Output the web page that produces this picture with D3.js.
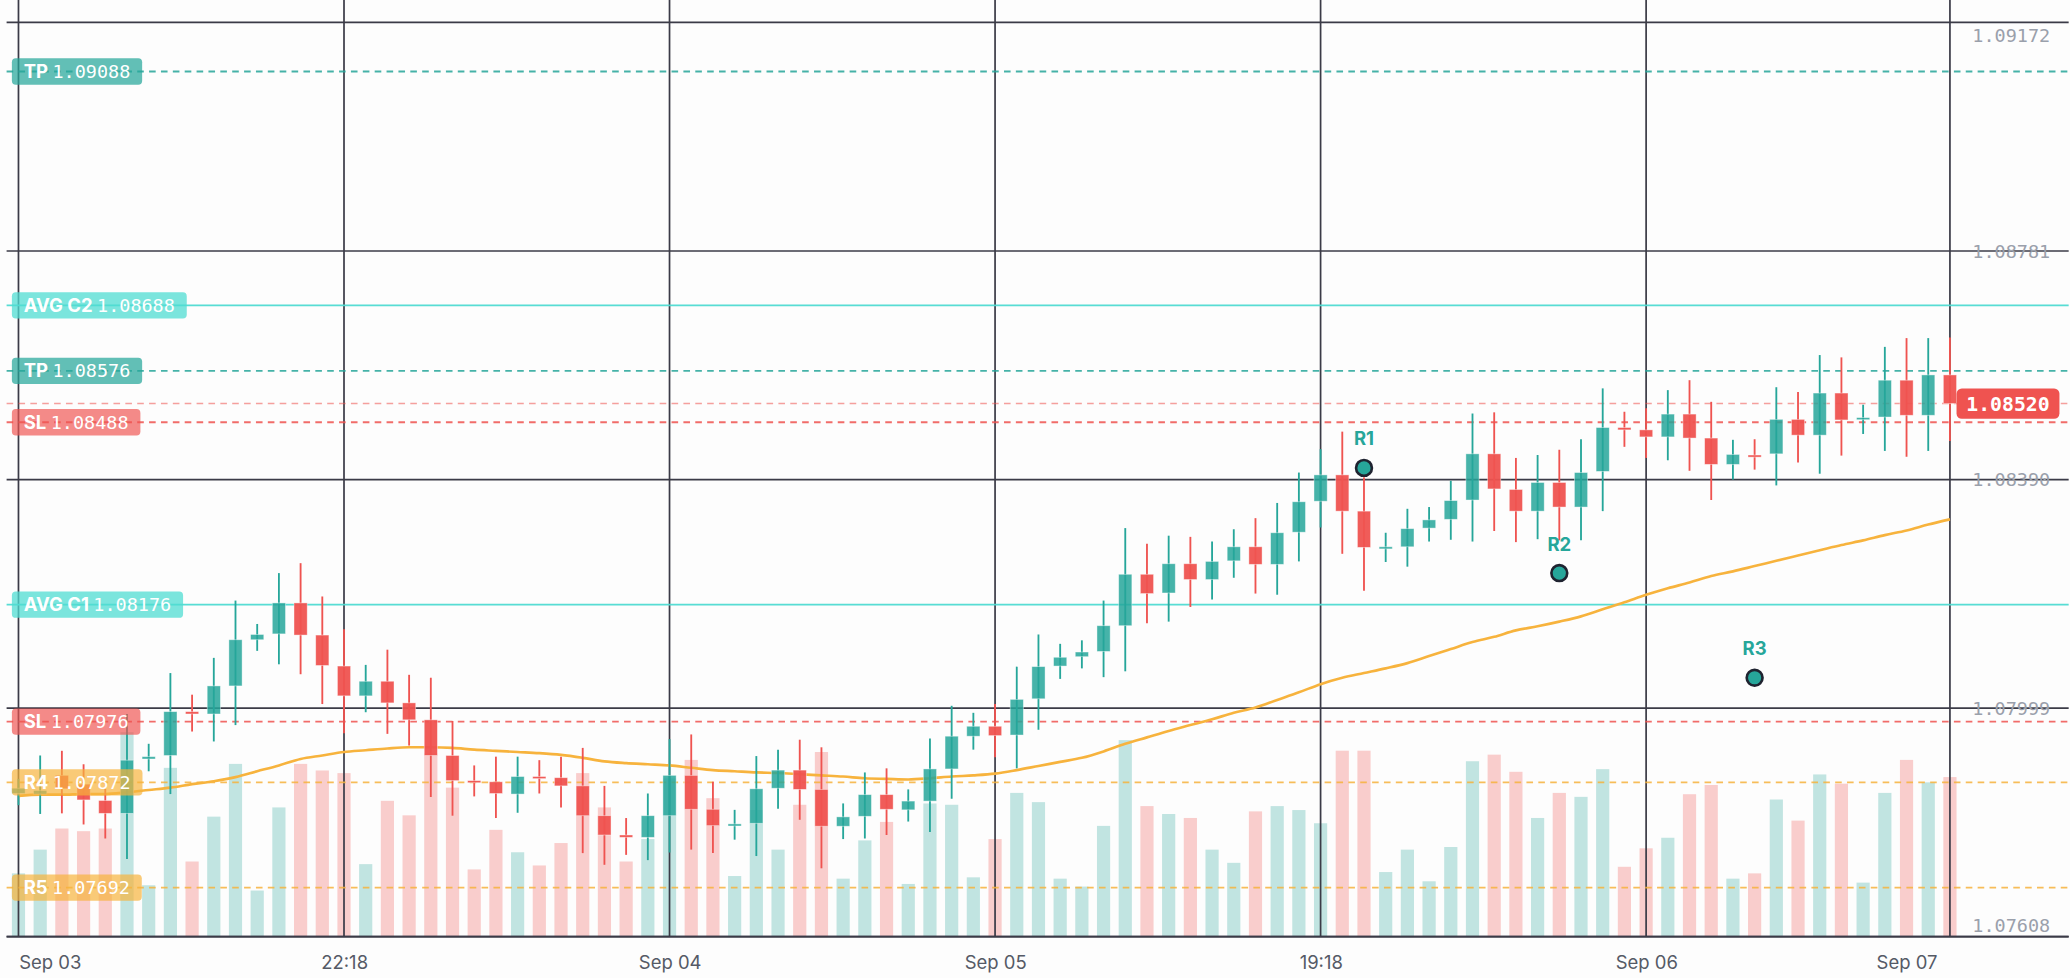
<!DOCTYPE html>
<html><head><meta charset="utf-8">
<script src="https://cdn.jsdelivr.net/npm/d3@7"></script>
<style>html,body{margin:0;padding:0;background:#fdfdfd;overflow:hidden}</style>
</head><body><svg id="c"></svg>
<script>
const opens=[1.07853,1.07852,1.07884,1.07869,1.07841,1.07819,1.07912,1.07918,1.07993,1.07989,1.08037,1.08116,1.08126,1.08179,1.08124,1.08071,1.08020,1.08045,1.08008,1.07979,1.07918,1.07875,1.07873,1.07852,1.07882,1.07880,1.07866,1.07815,1.07782,1.07778,1.07815,1.07884,1.07826,1.07799,1.07802,1.07862,1.07893,1.07860,1.07797,1.07814,1.07851,1.07825,1.07840,1.07895,1.07951,1.07968,1.07953,1.08015,1.08071,1.08087,1.08096,1.08140,1.08228,1.08196,1.08246,1.08219,1.08251,1.08275,1.08245,1.08300,1.08353,1.08398,1.08336,1.08274,1.08275,1.08307,1.08322,1.08355,1.08434,1.08373,1.08336,1.08385,1.08343,1.08404,1.08479,1.08475,1.08463,1.08502,1.08461,1.08416,1.08432,1.08434,1.08493,1.08466,1.08538,1.08495,1.08497,1.08560,1.08500,1.08569];
const highs=[1.07878,1.07918,1.07926,1.07903,1.07861,1.07989,1.07938,1.08059,1.08022,1.08085,1.08183,1.08143,1.08230,1.08247,1.08190,1.08134,1.08073,1.08099,1.08056,1.08051,1.07977,1.07901,1.07916,1.07916,1.07910,1.07916,1.07931,1.07866,1.07811,1.07853,1.07946,1.07954,1.07873,1.07825,1.07917,1.07928,1.07945,1.07932,1.07836,1.07889,1.07896,1.07860,1.07947,1.08003,1.07991,1.08006,1.08070,1.08125,1.08109,1.08115,1.08183,1.08307,1.08280,1.08294,1.08292,1.08284,1.08305,1.08324,1.08350,1.08402,1.08442,1.08472,1.08394,1.08299,1.08340,1.08343,1.08388,1.08503,1.08505,1.08427,1.08432,1.08441,1.08459,1.08546,1.08506,1.08512,1.08543,1.08560,1.08523,1.08458,1.08459,1.08548,1.08540,1.08603,1.08599,1.08518,1.08617,1.08632,1.08632,1.08633];
const lows=[1.07833,1.07818,1.07819,1.07800,1.07776,1.07741,1.07891,1.07852,1.07959,1.07942,1.07970,1.08097,1.08074,1.08057,1.08006,1.07956,1.07992,1.07955,1.07935,1.07847,1.07815,1.07848,1.07811,1.07820,1.07853,1.07829,1.07751,1.07731,1.07748,1.07739,1.07752,1.07757,1.07751,1.07774,1.07746,1.07827,1.07808,1.07725,1.07775,1.07776,1.07782,1.07805,1.07787,1.07844,1.07928,1.07915,1.07896,1.07962,1.08049,1.08067,1.08052,1.08062,1.08144,1.08147,1.08172,1.08185,1.08222,1.08195,1.08193,1.08250,1.08308,1.08263,1.08200,1.08249,1.08241,1.08284,1.08287,1.08284,1.08302,1.08283,1.08288,1.08286,1.08286,1.08336,1.08446,1.08427,1.08423,1.08405,1.08355,1.08390,1.08407,1.08380,1.08419,1.08400,1.08431,1.08468,1.08439,1.08429,1.08439,1.08456];
const closes=[1.07862,1.07858,1.07861,1.07842,1.07819,1.07910,1.07916,1.07993,1.07989,1.08037,1.08116,1.08125,1.08179,1.08124,1.08072,1.08020,1.08045,1.08008,1.07979,1.07918,1.07875,1.07872,1.07853,1.07882,1.07879,1.07866,1.07815,1.07782,1.07778,1.07815,1.07884,1.07826,1.07798,1.07801,1.07861,1.07893,1.07860,1.07797,1.07813,1.07851,1.07826,1.07840,1.07895,1.07951,1.07968,1.07952,1.08014,1.08070,1.08086,1.08095,1.08140,1.08228,1.08195,1.08246,1.08219,1.08250,1.08275,1.08245,1.08299,1.08352,1.08398,1.08336,1.08274,1.08275,1.08306,1.08321,1.08354,1.08434,1.08374,1.08336,1.08385,1.08343,1.08402,1.08479,1.08475,1.08463,1.08502,1.08461,1.08416,1.08433,1.08431,1.08493,1.08466,1.08538,1.08492,1.08496,1.08560,1.08500,1.08569,1.08520];
const volumes=[48,66,82,80,82,155,39,128,57,91,131,35,98,131,126,124,55,103,92,139,113,51,81,64,54,71,124,98,57,74,120,134,105,46,96,66,100,140,44,73,87,40,101,100,45,74,109,102,44,38,84,149,99,93,90,66,56,95,99,96,86,141,141,49,66,42,68,133,138,125,90,109,106,127,53,67,75,108,115,44,48,104,88,123,116,41,109,134,117,121];
const maValues=[1.07849,1.07851,1.07851,1.07852,1.07852,1.07855,1.07859,1.07863,1.07869,1.07874,1.07881,1.07891,1.07901,1.07912,1.07918,1.07924,1.07927,1.07930,1.07932,1.07932,1.07931,1.07928,1.07926,1.07924,1.07922,1.07919,1.07914,1.07908,1.07905,1.07903,1.07901,1.07897,1.07893,1.07891,1.07889,1.07888,1.07886,1.07884,1.07882,1.07879,1.07878,1.07877,1.07879,1.07882,1.07884,1.07887,1.07893,1.07900,1.07907,1.07914,1.07925,1.07938,1.07949,1.07960,1.07970,1.07980,1.07991,1.08000,1.08013,1.08026,1.08040,1.08051,1.08059,1.08067,1.08076,1.08088,1.08100,1.08112,1.08121,1.08132,1.08139,1.08147,1.08156,1.08168,1.08180,1.08193,1.08204,1.08214,1.08225,1.08233,1.08242,1.08251,1.08260,1.08269,1.08278,1.08286,1.08295,1.08303,1.08313,1.08322];
const timeTickIndex=[0,15,30,45,60,75,89];
const timeTickLabels=["Sep 03","22:18","Sep 04","Sep 05","19:18","Sep 06","Sep 07"];
const priceTicks=[1.09172,1.08781,1.08390,1.07999,1.07608];
const levelNames=["TP","AVG C2","TP","SL","AVG C1","SL","R4","R5"];
const levelPrices=[1.09088,1.08688,1.08576,1.08488,1.08176,1.07976,1.07872,1.07692];
const levelKinds=["tp","avg","tp","sl","avg","sl","r","r"];
const markerNames=["R1","R2","R3"];
const markerIndex=[62,71,80];
const markerPrices=[1.08410,1.08230,1.08051];
const lastPrice=1.08520;

const W=1569,H=741.3;
const svg=d3.select("#c").attr("width",2070).attr("height",978).attr("viewBox",`0 0 ${W} ${H}`);
svg.append("rect").attr("width",W).attr("height",H).attr("fill","#fdfdfd");
const L=14,R=1478,T=17,B=710;
const x=d3.scaleLinear().domain([0,89]).range([L,R]);
const y=d3.scaleLinear().domain([1.07608,1.09172]).range([B,T]);
const vy=d3.scaleLinear().domain([0,160]).range([B,550]);
const UP="#26a69a",DN="#ef5350";
const gridC="#3b3b47";
const mono="'DejaVu Sans Mono', monospace";
const sans="'Inter','Noto Sans',sans-serif";

const n=opens.length;
const idx=d3.range(n);
svg.append("g").selectAll("rect").data(idx).join("rect")
 .attr("x",i=>x(i)-5).attr("width",10).attr("y",i=>vy(volumes[i])).attr("height",i=>B-vy(volumes[i]))
 .attr("fill",i=>closes[i]>=opens[i]?"rgba(38,166,154,0.28)":"rgba(239,83,80,0.28)");

const g=svg.append("g");
priceTicks.forEach(p=>g.append("line").attr("x1",5).attr("x2",1568).attr("y1",y(p)).attr("y2",y(p)).attr("stroke",gridC).attr("stroke-width",1.3));
timeTickIndex.forEach(i=>g.append("line").attr("x1",x(i)).attr("x2",x(i)).attr("y1",0).attr("y2",B).attr("stroke",gridC).attr("stroke-width",1.3));

const lvlColor={tp:"#26a69a",avg:"#4fdcd2",sl:"#ef5350",r:"#f7b33d"};
const lvlBg={tp:"rgba(38,166,154,0.72)",avg:"rgba(79,220,210,0.75)",sl:"rgba(239,83,80,0.68)",r:"rgba(247,179,61,0.7)"};
levelPrices.forEach((p,i)=>{
  const k=levelKinds[i];
  g.append("line").attr("x1",5).attr("x2",1568).attr("y1",y(p)).attr("y2",y(p))
   .attr("stroke",lvlColor[k]).attr("stroke-width",1.4).attr("opacity",k==="avg"?0.95:0.85)
   .attr("stroke-dasharray",k==="avg"?null:"5,4");
});
g.append("line").attr("x1",5).attr("x2",1568).attr("y1",y(lastPrice)).attr("y2",y(lastPrice))
 .attr("stroke","#ef5350").attr("stroke-width",1.2).attr("opacity",0.55).attr("stroke-dasharray","5,4");

svg.append("path").datum(idx).attr("fill","none").attr("stroke","#f7b33d").attr("stroke-width",2)
 .attr("d",d3.line().x(i=>x(i)).y(i=>y(maValues[i])).curve(d3.curveMonotoneX));

const cg=svg.append("g");
idx.forEach(i=>{
  const up=closes[i]>=opens[i], c=up?UP:DN;
  cg.append("line").attr("x1",x(i)).attr("x2",x(i)).attr("y1",y(highs[i])).attr("y2",y(lows[i])).attr("stroke",c).attr("stroke-width",1.4);
  const top=y(Math.max(opens[i],closes[i])), bot=y(Math.min(opens[i],closes[i]));
  cg.append("rect").attr("x",x(i)-5).attr("width",10).attr("y",top).attr("height",Math.max(1.6,bot-top))
   .attr("fill",c).attr("fill-opacity",up?0.85:0.95).attr("stroke","rgba(255,255,255,0.5)").attr("stroke-width",0.6);
});

markerIndex.forEach((k,i)=>{
  svg.append("circle").attr("cx",x(k)).attr("cy",y(markerPrices[i])).attr("r",6).attr("fill","#26a69a").attr("stroke","#1f2330").attr("stroke-width",2);
  svg.append("text").attr("x",x(k)).attr("y",y(markerPrices[i])-17).attr("text-anchor","middle")
   .attr("font-family",sans).attr("font-weight",700).attr("font-size",14).attr("fill","#26a69a").text(markerNames[i]);
});

levelPrices.forEach((p,i)=>{
  const k=levelKinds[i];
  const lg=svg.append("g").attr("transform",`translate(9,${y(p)})`);
  const r=lg.append("rect").attr("y",-10).attr("height",20).attr("rx",3).attr("fill",lvlBg[k]);
  const t=lg.append("text").attr("x",9).attr("y",5).attr("fill","#fff").attr("font-size",14);
  t.append("tspan").attr("font-family",sans).attr("font-weight",700).text(levelNames[i]+" ");
  t.append("tspan").attr("font-family",mono).text(p.toFixed(5));
  const w=t.node().getComputedTextLength();
  r.attr("width",w+18);
});

const ya=svg.append("g").attr("transform",`translate(1492,0)`).call(d3.axisRight(y).tickValues(priceTicks).tickSize(0).tickFormat(d=>d.toFixed(5)));
ya.select(".domain").remove();
ya.selectAll("text").attr("font-family",mono).attr("font-size",14).attr("fill","#9aa0ab").attr("x",3)
 .attr("dy",(d,i)=>i===0?"1em":(i===priceTicks.length-1?"-0.3em":"0.32em"));

const lp=svg.append("g").attr("transform",`translate(1483,${y(lastPrice)})`);
lp.append("rect").attr("y",-11.5).attr("width",78).attr("height",23).attr("rx",4).attr("fill","#ef5350");
lp.append("text").attr("x",39).attr("y",5.5).attr("text-anchor","middle").attr("fill","#fff").attr("font-family",mono).attr("font-weight",700).attr("font-size",15).text(lastPrice.toFixed(5));

const xa=svg.append("g").attr("transform",`translate(0,${B})`).call(d3.axisBottom(x).tickValues(timeTickIndex).tickSize(0).tickFormat((d,i)=>timeTickLabels[i]));
xa.select(".domain").attr("stroke",gridC).attr("stroke-width",1.3).attr("d",`M5,0H1568`);
xa.selectAll("text").attr("font-family",sans).attr("font-size",14).attr("fill","#555a66").attr("dy","1.55em")
 .attr("text-anchor",(d,i)=>i===0?"start":(i===timeTickIndex.length-1?"end":"middle"))
 .attr("dx",(d,i)=>i===timeTickIndex.length-1?-10:0);
</script></body></html>
